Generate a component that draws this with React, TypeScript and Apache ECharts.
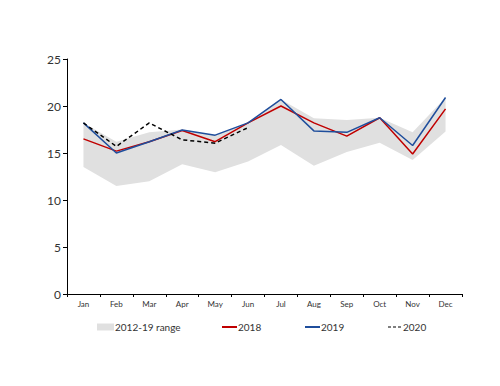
import React, { useEffect, useRef } from "react";
import * as echarts from "echarts";

const months = ["Jan", "Feb", "Mar", "Apr", "May", "Jun", "Jul", "Aug", "Sep", "Oct", "Nov", "Dec"];
const rangeLow = [13.5, 11.5, 12.0, 13.8, 12.95, 14.1, 15.85, 13.65, 15.1, 16.1, 14.25, 17.3];
const rangeHigh = [18.2, 16.2, 17.2, 17.5, 16.9, 18.2, 20.7, 18.7, 18.5, 18.75, 17.2, 20.9];
const s2018 = [16.5, 15.2, 16.2, 17.4, 16.2, 18.2, 20.0, 18.2, 16.8, 18.75, 14.9, 19.7];
const s2019 = [18.2, 15.0, 16.2, 17.45, 16.9, 18.2, 20.7, 17.35, 17.2, 18.75, 15.8, 20.9];
const s2020 = [18.2, 15.7, 18.2, 16.4, 16.05, 17.7];
const yTicks = [0, 5, 10, 15, 20, 25];

const FONT = "Lato";

export default function App() {
  const ref = useRef<HTMLDivElement>(null);
  useEffect(() => {
    const chart = echarts.init(ref.current!, null, { renderer: "svg" });
    const diff = rangeHigh.map((h, i) => +(h - rangeLow[i]).toFixed(3));
    const legendText = { color: "#333", fontSize: 10, fontFamily: FONT };
    chart.setOption({
      animation: false,
      grid: { left: 67, right: 38, top: 59, bottom: 92 },
      xAxis: {
        type: "category",
        data: months,
        boundaryGap: true,
        axisLine: { lineStyle: { color: "#000", width: 1 } },
        axisTick: { show: true, length: 3, lineStyle: { color: "#000" } },
        axisLabel: { color: "#333", fontSize: 8, fontFamily: FONT, margin: 6 },
      },
      yAxis: {
        type: "value",
        min: yTicks[0],
        max: yTicks[yTicks.length - 1],
        interval: 5,
        splitLine: { show: false },
        axisLine: { show: true, lineStyle: { color: "#000", width: 1 } },
        axisTick: { show: true, length: 4, lineStyle: { color: "#000" } },
        axisLabel: { color: "#333", fontSize: 12, fontFamily: FONT, margin: 6 },
      },
      legend: [
        {
          left: 92, top: 317, itemWidth: 17, itemHeight: 7, itemGap: 0,
          data: [{ name: "2012-19 range", icon: "rect", itemStyle: { color: "#e0e0e0" } }],
          textStyle: { ...legendText, padding: [0, 0, 0, -4] },
        },
        {
          left: 217, top: 317, itemWidth: 15, itemHeight: 2,
          data: [{ name: "2018", icon: "rect", itemStyle: { color: "#c00000" } }],
          textStyle: { ...legendText, padding: [0, 0, 0, -4] },
        },
        {
          left: 300, top: 317, itemWidth: 15, itemHeight: 2,
          data: [{ name: "2019", icon: "rect", itemStyle: { color: "#1f4e9c" } }],
          textStyle: { ...legendText, padding: [0, 0, 0, -4] },
        },
        {
          left: 383, top: 317, itemWidth: 13, itemHeight: 2,
          data: [{
            name: "2020",
            icon: "path://M0,0h3v1h-3z M5,0h3v1h-3z M10,0h3v1h-3z",
            itemStyle: { color: "#000" },
          }],
          textStyle: { ...legendText, padding: [0, 0, 0, -3] },
        },
      ],
      series: [
        {
          name: "base",
          type: "line",
          stack: "range",
          data: rangeLow,
          showSymbol: false,
          lineStyle: { opacity: 0 },
          areaStyle: { opacity: 0 },
          silent: true,
        },
        {
          name: "2012-19 range",
          type: "line",
          stack: "range",
          data: diff,
          showSymbol: false,
          lineStyle: { opacity: 0 },
          itemStyle: { color: "#e0e0e0" },
          areaStyle: { color: "#e0e0e0", opacity: 1 },
        },
        {
          name: "2018",
          type: "line",
          data: s2018,
          showSymbol: false,
          lineStyle: { color: "#c00000", width: 1.5 },
          itemStyle: { color: "#c00000" },
        },
        {
          name: "2019",
          type: "line",
          data: s2019,
          showSymbol: false,
          lineStyle: { color: "#1f4e9c", width: 1.5 },
          itemStyle: { color: "#1f4e9c" },
        },
        {
          name: "2020",
          type: "line",
          data: s2020,
          showSymbol: false,
          lineStyle: { color: "#000", width: 1.5, type: [4, 3] },
          itemStyle: { color: "#000" },
        },
      ],
    });
    return () => chart.dispose();
  }, []);
  return <div ref={ref} style={{ width: 500, height: 386, position: "absolute", left: 0, top: 0, background: "#fff" }} />;
}
